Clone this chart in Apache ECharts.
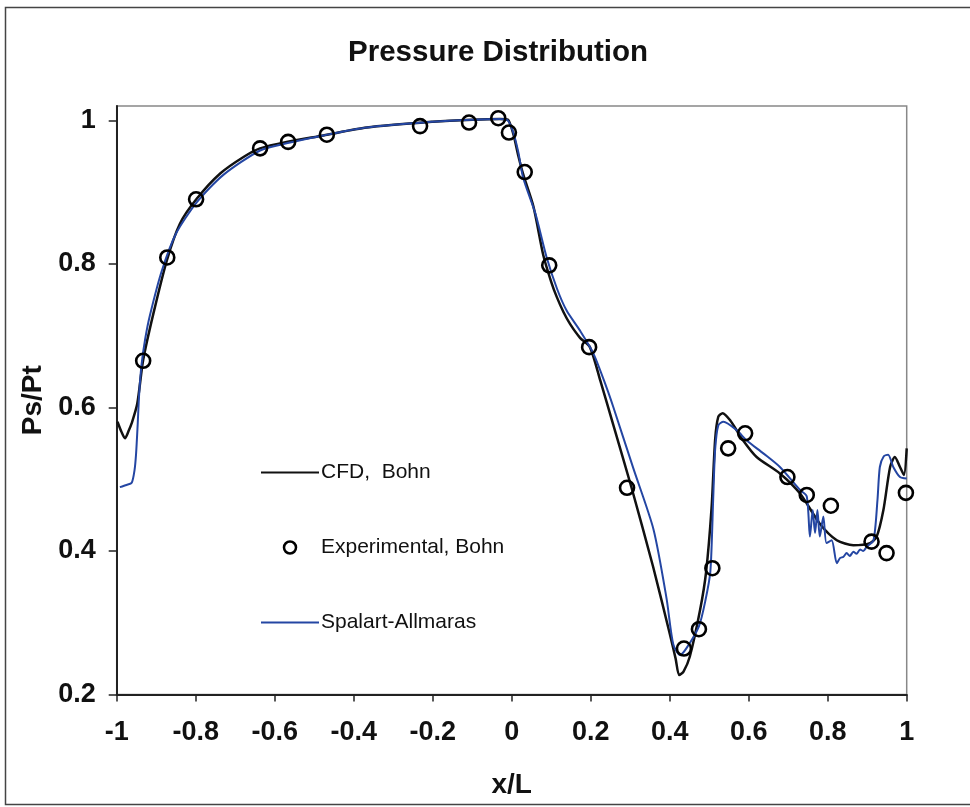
<!DOCTYPE html>
<html>
<head>
<meta charset="utf-8">
<title>Pressure Distribution</title>
<script src="https://cdn.jsdelivr.net/npm/echarts@6/dist/echarts.min.js"></script>
<style>
  html, body { margin: 0; padding: 0; background: #fff; }
  #chart { width: 970px; height: 807px; }
</style>
</head>
<body>
<div id="chart"></div>
<script>
// values
var cfdX = [-0.998, -0.988, -0.979, -0.970, -0.962, -0.948, -0.933, -0.907, -0.873, -0.840, -0.797, -0.738, -0.679, -0.637, -0.570, -0.477, -0.367, -0.200, -0.100, -0.030, -0.010, 0.004, 0.017, 0.029, 0.055, 0.080, 0.100, 0.114, 0.131, 0.148, 0.173, 0.198, 0.224, 0.257, 0.304, 0.358, 0.400, 0.415, 0.424, 0.435, 0.451, 0.477, 0.492, 0.506, 0.515, 0.523, 0.534, 0.553, 0.586, 0.620, 0.679, 0.730, 0.780, 0.823, 0.865, 0.907, 0.924, 0.941, 0.958, 0.970, 0.983, 0.993, 1.000];
var cfdY = [0.580, 0.566, 0.557, 0.567, 0.578, 0.605, 0.666, 0.731, 0.805, 0.856, 0.891, 0.926, 0.949, 0.961, 0.970, 0.979, 0.990, 0.998, 1.001, 1.002, 1.001, 0.981, 0.950, 0.925, 0.880, 0.812, 0.775, 0.754, 0.733, 0.716, 0.697, 0.684, 0.638, 0.576, 0.487, 0.378, 0.285, 0.250, 0.227, 0.232, 0.253, 0.318, 0.370, 0.460, 0.555, 0.587, 0.592, 0.582, 0.554, 0.531, 0.508, 0.480, 0.438, 0.415, 0.408, 0.411, 0.420, 0.457, 0.517, 0.531, 0.517, 0.506, 0.543];

var expX = [-0.933, -0.872, -0.799, -0.637, -0.566, -0.468, -0.232, -0.108, -0.034, -0.007, 0.033, 0.095, 0.196, 0.292, 0.436, 0.474, 0.508, 0.548, 0.591, 0.698, 0.747, 0.808, 0.911, 0.949, 0.998];
var expY = [0.665, 0.809, 0.890, 0.961, 0.970, 0.980, 0.992, 0.997, 1.003, 0.983, 0.928, 0.798, 0.684, 0.488, 0.264, 0.291, 0.376, 0.543, 0.564, 0.503, 0.478, 0.463, 0.413, 0.397, 0.481];

var saX = [-0.992, -0.975, -0.962, -0.955, -0.951, -0.947, -0.943, -0.937, -0.928, -0.916, -0.886, -0.850, -0.797, -0.730, -0.637, -0.570, -0.477, -0.367, -0.200, -0.100, -0.030, -0.010, 0.004, 0.017, 0.029, 0.060, 0.088, 0.115, 0.139, 0.173, 0.207, 0.240, 0.257, 0.308, 0.359, 0.392, 0.409, 0.426, 0.443, 0.474, 0.490, 0.503, 0.510, 0.515, 0.523, 0.536, 0.570, 0.595, 0.637, 0.679, 0.730, 0.747, 0.755, 0.762, 0.768, 0.774, 0.780, 0.789, 0.797, 0.810, 0.823, 0.831, 0.840, 0.848, 0.856, 0.865, 0.873, 0.882, 0.890, 0.899, 0.916, 0.926, 0.932, 0.942, 0.953, 0.966, 0.983, 1.000];
var saY = [0.489, 0.492, 0.495, 0.512, 0.535, 0.575, 0.620, 0.660, 0.695, 0.728, 0.790, 0.842, 0.886, 0.924, 0.958, 0.968, 0.979, 0.990, 0.998, 1.001, 1.002, 1.000, 0.983, 0.955, 0.920, 0.870, 0.810, 0.765, 0.735, 0.707, 0.675, 0.628, 0.601, 0.515, 0.430, 0.334, 0.270, 0.255, 0.265, 0.295, 0.330, 0.372, 0.471, 0.541, 0.575, 0.580, 0.568, 0.554, 0.536, 0.517, 0.485, 0.476, 0.420, 0.457, 0.425, 0.457, 0.420, 0.448, 0.411, 0.415, 0.383, 0.390, 0.392, 0.397, 0.393, 0.399, 0.396, 0.402, 0.400, 0.406, 0.415, 0.471, 0.517, 0.532, 0.534, 0.517, 0.503, 0.501];

var yTicks = [0.2, 0.4, 0.6, 0.8, 1];

function pairs(xs, ys) {
    var out = [];
    for (var i = 0; i < xs.length; i++) {
        out.push([xs[i], ys[i]]);
    }
    return out;
}

var font = '"Liberation Sans", Arial, sans-serif';
var chart = echarts.init(document.getElementById('chart'), null, { renderer: 'canvas' });

var option = {
    backgroundColor: '#fff',
    animation: false,
    title: {
        text: 'Pressure Distribution',
        left: 348,
        top: 38,
        padding: 0,
        textStyle: { fontFamily: font, fontSize: 29.5, fontWeight: 'bold', color: '#111' }
    },
    graphic: [{
        type: 'rect',
        shape: { x: 5.5, y: 7.5, width: 990, height: 797 },
        style: { fill: 'none', stroke: '#444', lineWidth: 1.5 },
        silent: true
    }],
    legend: {
        orient: 'vertical',
        left: 260,
        top: 462,
        padding: 0,
        itemWidth: 58,
        itemHeight: 12,
        itemGap: 54,
        textStyle: { fontFamily: font, fontSize: 21, color: '#111', lineHeight: 21, padding: [0, 0, 0, -3] },
        data: [
            { name: 'CFD,  Bohn', itemStyle: { opacity: 0 } },
            { name: 'Experimental, Bohn', itemStyle: { color: 'rgba(255,255,255,0)', borderColor: '#000', borderWidth: 2.5 } },
            { name: 'Spalart-Allmaras', itemStyle: { opacity: 0 } }
        ]
    },
    grid: {
        left: 116.7,
        right: 63.3,
        top: 106,
        bottom: 112.5,
        show: true,
        borderColor: '#888',
        borderWidth: 1.5,
        containLabel: false
    },
    xAxis: {
        type: 'value',
        min: -1,
        max: 1,
        interval: 0.2,
        name: 'x/L',
        nameLocation: 'middle',
        nameGap: 77,
        nameTextStyle: { fontFamily: font, fontSize: 28, fontWeight: 'bold', color: '#111' },
        axisLine: { onZero: false, lineStyle: { color: '#222', width: 2 } },
        axisTick: { show: true, inside: false, length: 7, lineStyle: { color: '#222', width: 1.5 } },
        axisLabel: { margin: 25, fontFamily: font, fontSize: 27, fontWeight: 'bold', color: '#111' },
        splitLine: { show: false }
    },
    yAxis: {
        type: 'value',
        min: 0.2,
        max: 1.02,
        interval: 0.2,
        name: 'Ps/Pt',
        nameLocation: 'middle',
        nameGap: 69,
        nameTextStyle: { fontFamily: font, fontSize: 28, fontWeight: 'bold', color: '#111' },
        axisLine: { show: true, onZero: false, lineStyle: { color: '#222', width: 2 } },
        axisTick: { show: true, inside: false, length: 8, customValues: yTicks, lineStyle: { color: '#222', width: 1.5 } },
        axisLabel: { margin: 21, customValues: yTicks, fontFamily: font, fontSize: 27, fontWeight: 'bold', color: '#111' },
        splitLine: { show: false }
    },
    series: [{
        name: 'CFD,  Bohn',
        type: 'line',
        data: pairs(cfdX, cfdY),
        symbol: 'none',
        smooth: 0.25,
        lineStyle: { color: '#111', width: 2.5 },
        itemStyle: { color: '#111' },
        z: 2
    }, {
        name: 'Spalart-Allmaras',
        type: 'line',
        data: pairs(saX, saY),
        symbol: 'none',
        smooth: 0.25,
        lineStyle: { color: '#2446a3', width: 2 },
        itemStyle: { color: '#2446a3' },
        z: 3
    }, {
        name: 'Experimental, Bohn',
        type: 'scatter',
        data: pairs(expX, expY),
        symbol: 'circle',
        symbolSize: 14,
        itemStyle: { color: 'rgba(255,255,255,0)', borderColor: '#000', borderWidth: 2.6, opacity: 1 },
        z: 4
    }]
};

chart.setOption(option);
</script>
</body>
</html>
